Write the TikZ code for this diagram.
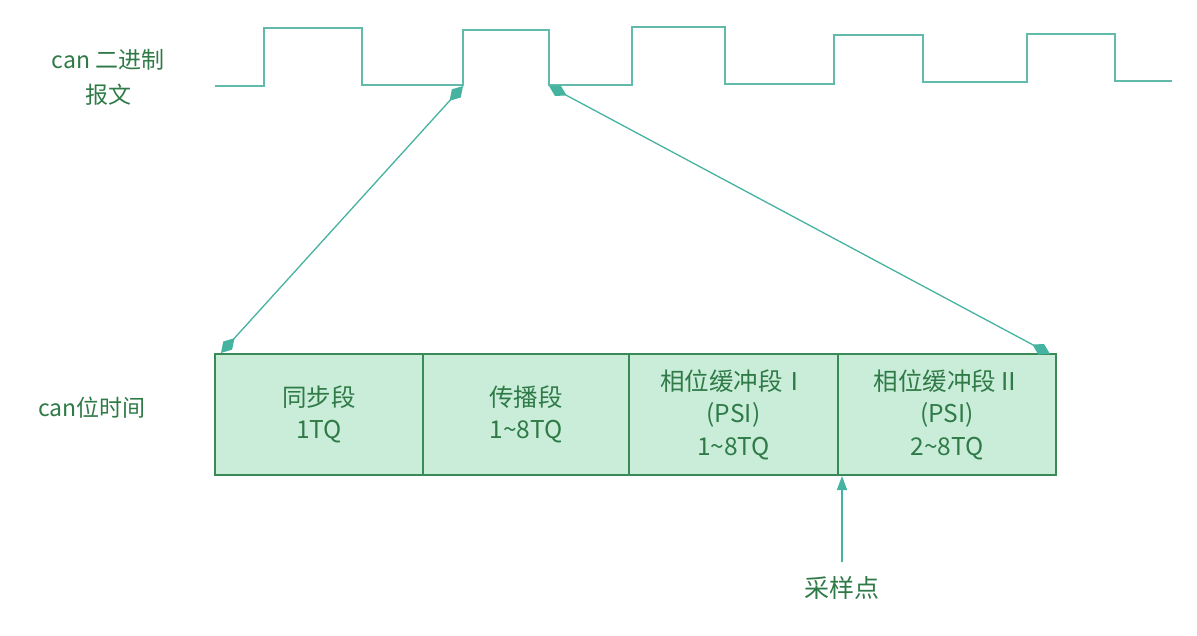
\documentclass[tikz,border=0pt]{standalone}
\usepackage{fontspec}
\setmainfont{Noto Sans CJK SC}
\usetikzlibrary{arrows.meta}
\definecolor{wave}{HTML}{62BAAB}
\definecolor{conn}{HTML}{45B3A0}
\definecolor{boxfill}{HTML}{C9EDD9}
\definecolor{boxline}{HTML}{3A8A58}
\definecolor{txt}{HTML}{2F7A47}
\tikzset{
  seg/.style={draw=boxline, line width=1.4pt, fill=boxfill, rectangle, inner sep=0pt,
    minimum height=121pt, text=txt, align=center,
    font=\fontsize{24.5}{32.5}\selectfont},
  lbl/.style={text=txt, font=\fontsize{23}{35}\selectfont, align=center, inner sep=0pt},
  wavel/.style={draw=wave, line width=1.6pt},
  connl/.style={draw=conn, line width=1.3pt, {Diamond[length=20pt,width=12pt]}-{Diamond[length=20pt,width=12pt]}},
  samp/.style={draw=conn, line width=1.6pt, -{Triangle[length=14pt,width=10pt]}}
}
\begin{document}
\begin{tikzpicture}[x=1pt,y=-1pt]
\useasboundingbox (0,0) rectangle (1197,636);
% waveform
\draw[wavel] (215,86) -- (264,86) -- (264,28) -- (362,28) -- (362,85) -- (463,85) -- (463,30)
  -- (549,30) -- (549,85) -- (632,85) -- (632,27) -- (725,27) -- (725,84) -- (834,84) -- (834,35)
  -- (923,35) -- (923,82) -- (1027,82) -- (1027,34) -- (1115,34) -- (1115,81) -- (1172,81);
\coordinate (w1) at (463,86);
\coordinate (w2) at (549,86);
% segments
\node[seg, minimum width=208pt] (s1) at (319,414.5) {同步段\\1TQ};
\node[seg, minimum width=206pt] (s2) at (526,414.5) {传播段\\1\textasciitilde 8TQ};
\node[seg, minimum width=209pt] (s3) at (733.5,414.5) {相位缓冲段Ⅰ\\(PSI)\\1\textasciitilde 8TQ};
\node[seg, minimum width=218pt] (s4) at (947,414.5) {相位缓冲段Ⅱ\\(PSI)\\2\textasciitilde 8TQ};
\coordinate (b1) at (221,353);
\coordinate (b2) at (1050,354);
% connectors
\draw[connl] (w1) -- (b1);
\draw[connl] (w2) -- (b2);
% labels
\node[lbl] (l1) at (108,77) {can 二进制\\报文};
\node[lbl] (l2) at (92,408) {can位时间};
\node[lbl, font=\fontsize{25}{30}\selectfont] (sp) at (842,588) {采样点};
\coordinate (spb) at (842,562);
\draw[samp] (spb) -- (842,476);
\end{tikzpicture}
\end{document}
